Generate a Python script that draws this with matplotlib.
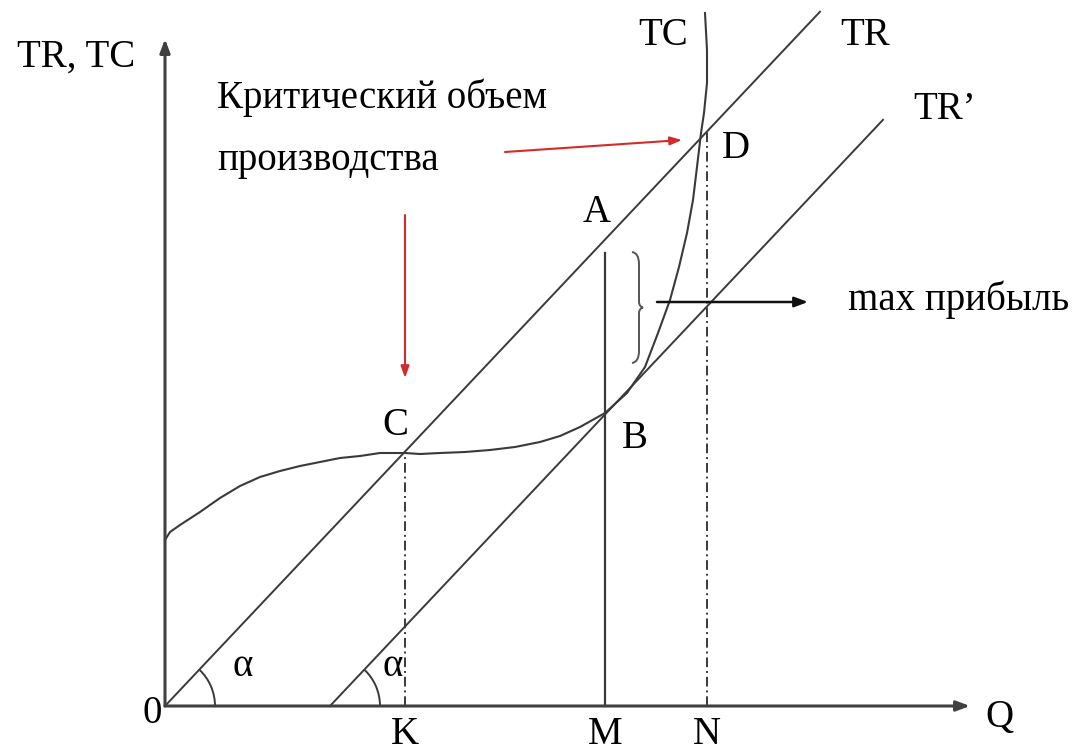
import numpy as np
import matplotlib
matplotlib.use("Agg")
import matplotlib.pyplot as plt
from matplotlib.patches import Arc, PathPatch
from matplotlib.path import Path

plt.rcParams['font.family'] = ['Liberation Serif', 'DejaVu Serif']

# slope of revenue lines (tan alpha)
slope = 1.06
tr_q = [0, 655]
trp_q = [165, 718]

# total cost curve
tc_q = [0, 5, 15, 35, 55, 75, 95, 115, 135, 155, 175, 195, 215, 240, 255,
        275, 300, 325, 350, 375, 395, 415, 440, 462, 480, 493, 505, 514,
        522, 528, 532, 536, 539, 542, 542, 540]
tc_v = [166, 174, 181, 194, 208, 220, 229, 235, 240, 244, 248, 250, 253, 253, 252,
        253, 254, 256, 259, 264, 270, 279, 293, 313, 339, 373, 406, 439,
        473, 506, 539, 573, 593, 623, 656, 693]

# marked volumes on Q axis
q_k, q_m, q_n = 240, 440, 542
m_top = 453

line_col = '#3a3a3a'
red = '#d42a2a'

fig = plt.figure(figsize=(10.78, 7.54), dpi=100)
ax = fig.add_axes([0, 0, 1, 1])
ax.set_xlim(-165, 913)
ax.set_ylim(-48, 706)
ax.axis('off')

# axes with arrows
ax.annotate('', xy=(805, 0), xytext=(0, 0),
            arrowprops=dict(arrowstyle='-|>,head_length=0.8,head_width=0.3',
                            color='#404040', lw=2.2, shrinkA=0, shrinkB=0))
ax.annotate('', xy=(0, 667), xytext=(0, 0),
            arrowprops=dict(arrowstyle='-|>,head_length=0.8,head_width=0.3',
                            color='#404040', lw=2.2, shrinkA=0, shrinkB=0))

# TR and TR'
tr_q = np.array(tr_q)
trp_q = np.array(trp_q)
ax.plot(tr_q, slope * tr_q, color=line_col, lw=1.4)
ax.plot(trp_q, slope * (trp_q - trp_q[0]), color=line_col, lw=1.4)

# TC
ax.plot(tc_q, tc_v, color=line_col, lw=1.5, solid_joinstyle='round')

# verticals
ax.plot([q_m, q_m], [0, m_top], color=line_col, lw=1.6)
ax.plot([q_k, q_k], [0, slope * q_k], color=line_col, lw=1.4,
        linestyle=(0, (5, 2, 1, 2)))
ax.plot([q_n, q_n], [0, slope * q_n], color=line_col, lw=1.4,
        linestyle=(0, (5, 2, 1, 2)))

# alpha arcs
ang = np.degrees(np.arctan(slope))
ax.add_patch(Arc((0, 0), 100, 100, theta1=0, theta2=ang, color=line_col, lw=1.4))
ax.add_patch(Arc((trp_q[0], 0), 100, 100, theta1=0, theta2=ang, color=line_col, lw=1.4))

fs = 28
ax.text(67, 30, 'α', fontsize=fs, ha='left', va='baseline')
ax.text(217, 30, 'α', fontsize=fs, ha='left', va='baseline')

# point labels
ax.text(-13, -17, '0', fontsize=fs, ha='center', va='baseline')
ax.text(820, -21, 'Q', fontsize=fs, ha='left', va='baseline')
ax.text(q_k, -47, 'K', fontsize=fs, ha='center', va='bottom')
ax.text(q_m, -47, 'M', fontsize=fs, ha='center', va='bottom')
ax.text(q_n, -47, 'N', fontsize=fs, ha='center', va='bottom')
ax.text(-148, 639, 'TR, TC', fontsize=fs, ha='left', va='baseline')
ax.text(473, 661, 'TC', fontsize=fs, ha='left', va='baseline')
ax.text(675, 661, 'TR', fontsize=fs, ha='left', va='baseline')
ax.text(748, 587, 'TR’', fontsize=fs, ha='left', va='baseline')
ax.text(217, 271, 'C', fontsize=fs, ha='left', va='baseline')
ax.text(432, 484, 'A', fontsize=fs, ha='center', va='baseline')
ax.text(457, 258, 'B', fontsize=fs, ha='left', va='baseline')
ax.text(557, 548, 'D', fontsize=fs, ha='left', va='baseline')
ax.text(52, 598, 'Критический объем', fontsize=fs, ha='left', va='baseline')
ax.text(52, 536, 'производства', fontsize=fs, ha='left', va='baseline')
ax.text(683, 396, 'max прибыль', fontsize=fs, ha='left', va='baseline')

# red arrows
ax.annotate('', xy=(517, 566), xytext=(340, 554),
            arrowprops=dict(arrowstyle='-|>,head_length=0.7,head_width=0.25',
                            color=red, lw=1.5, shrinkA=0, shrinkB=0))
ax.annotate('', xy=(q_k, 328), xytext=(q_k, 491),
            arrowprops=dict(arrowstyle='-|>,head_length=0.7,head_width=0.25',
                            color=red, lw=1.5, shrinkA=0, shrinkB=0))

# black arrow to "max прибыль"
ax.annotate('', xy=(643, 404), xytext=(492, 404),
            arrowprops=dict(arrowstyle='-|>,head_length=0.8,head_width=0.3',
                            color='#111111', lw=1.8, shrinkA=0, shrinkB=0))

# curly brace
bx, btop, bbot = 467, 454, 343
bmid = (btop + bbot) / 2
verts = [(bx, btop), (bx + 7, btop - 1), (bx + 7, btop - 12),
         (bx + 7, bmid + 6), (bx + 7, bmid + 1), (bx + 11, bmid),
         (bx + 7, bmid - 1), (bx + 7, bmid - 6),
         (bx + 7, bbot + 12), (bx + 7, bbot + 1), (bx, bbot)]
codes = [Path.MOVETO, Path.CURVE3, Path.CURVE3,
         Path.LINETO, Path.CURVE3, Path.CURVE3,
         Path.CURVE3, Path.CURVE3,
         Path.LINETO, Path.CURVE3, Path.CURVE3]
ax.add_patch(PathPatch(Path(verts, codes), fill=False, ec='#555555', lw=1.4))

fig.savefig('out.png', dpi=100)
